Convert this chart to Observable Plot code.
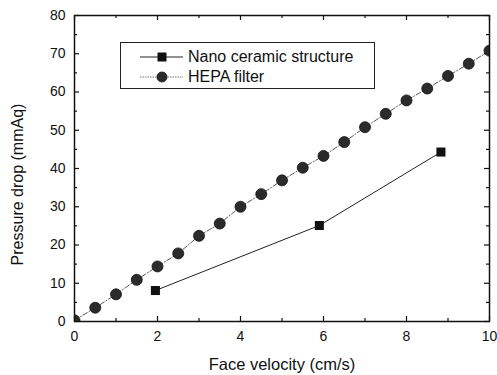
<!DOCTYPE html>
<html>
<head>
<meta charset="utf-8">
<script src="https://cdn.jsdelivr.net/npm/d3@7"></script>
<script src="https://cdn.jsdelivr.net/npm/@observablehq/plot@0.6"></script>
<style>
  html, body { margin: 0; padding: 0; background: #fff; }
  #wrap { position: relative; width: 497px; height: 375px; font-family: "Liberation Sans", Arial, sans-serif; }
  #legend { position: absolute; left: 120px; top: 42px; width: 255px; height: 47px; border: 1px solid #222; background: #fff; box-sizing: border-box; }
  .row { position: absolute; left: 0; height: 20px; display: flex; align-items: center; font-size: 16px; color: #111; }
  .row svg { margin-left: 19px; margin-right: 5px; }
</style>
</head>
<body>
<div id="wrap"></div>
<script>
const hepaVelocity = [0, 0.5, 1, 1.5, 2, 2.5, 3, 3.5, 4, 4.5, 5, 5.5, 6, 6.5, 7, 7.5, 8, 8.5, 9, 9.5, 10];
const hepaPressure = [0.3, 3.6, 7.1, 10.9, 14.4, 17.8, 22.4, 25.6, 30.0, 33.3, 36.9, 40.2, 43.3, 46.9, 50.8, 54.3, 57.8, 60.9, 64.2, 67.4, 70.8];
const nanoVelocity = [1.95, 5.9, 8.83];
const nanoPressure = [8.1, 25.1, 44.3];
const xMajor = [0, 2, 4, 6, 8, 10];
const xMinor = [1, 3, 5, 7, 9];
const yMajor = [0, 10, 20, 30, 40, 50, 60, 70, 80];
const yMinor = [5, 15, 25, 35, 45, 55, 65, 75];
const seriesNames = ["Nano ceramic structure", "HEPA filter"];

const hepa = hepaVelocity.map((v, i) => ({v, p: hepaPressure[i]}));
const nano = nanoVelocity.map((v, i) => ({v, p: nanoPressure[i]}));

const W = 497, H = 375, mL = 74, mR = 8, mT = 15, mB = 54;
const iH = H - mT - mB, iW = W - mL - mR;
const font = "Liberation Sans, Arial, sans-serif";

const chart = Plot.plot({
  width: W, height: H,
  marginLeft: mL, marginRight: mR, marginTop: mT, marginBottom: mB,
  style: {fontFamily: font, background: "#fff", color: "#111"},
  x: {domain: [0, 10]},
  y: {domain: [0, 80]},
  marks: [
    Plot.axisX(xMajor, {tickSize: 0, tickPadding: 10, fontSize: 14, label: null}),
    Plot.axisY(yMajor, {tickSize: 0, tickPadding: 9, fontSize: 14, label: null}),
    // inward ticks
    Plot.tickX(xMajor, {x: d => d, insetTop: iH - 5, stroke: "#111", strokeWidth: 1.2}),
    Plot.tickX(xMinor, {x: d => d, insetTop: iH - 3, stroke: "#111", strokeWidth: 1.2}),
    Plot.tickX(xMajor, {x: d => d, insetBottom: iH - 5, stroke: "#111", strokeWidth: 1.2}),
    Plot.tickX(xMinor, {x: d => d, insetBottom: iH - 3, stroke: "#111", strokeWidth: 1.2}),
    Plot.tickY(yMajor, {y: d => d, insetRight: iW - 5, stroke: "#111", strokeWidth: 1.2}),
    Plot.tickY(yMinor, {y: d => d, insetRight: iW - 3, stroke: "#111", strokeWidth: 1.2}),
    Plot.tickY(yMajor, {y: d => d, insetLeft: iW - 5, stroke: "#111", strokeWidth: 1.2}),
    Plot.tickY(yMinor, {y: d => d, insetLeft: iW - 3, stroke: "#111", strokeWidth: 1.2}),
    Plot.line(hepa, {x: "v", y: "p", stroke: "#444", strokeWidth: 0.9, strokeDasharray: "5,2,1,2", clip: true}),
    Plot.line(nano, {x: "v", y: "p", stroke: "#222", strokeWidth: 1}),
    Plot.dot(hepa, {x: "v", y: "p", r: 5.5, fill: "#2b2b2b", stroke: "#111", strokeWidth: 0.8, clip: true}),
    Plot.dot(nano, {x: "v", y: "p", r: 5.1, symbol: "square", fill: "#111", stroke: "none"}),
    Plot.frame({stroke: "#111", strokeWidth: 1.5}),
    Plot.text(["Face velocity (cm/s)"], {frameAnchor: "bottom", lineAnchor: "middle", textAnchor: "middle", dy: 43, fontSize: 16.5, fill: "#111", text: d => d}),
    Plot.text(["Pressure drop (mmAq)"], {frameAnchor: "left", lineAnchor: "middle", textAnchor: "middle", dx: -57, dy: 16, rotate: -90, fontSize: 16, fill: "#111", text: d => d})
  ]
});

const wrap = document.getElementById("wrap");
wrap.appendChild(chart);

const legend = document.createElement("div");
legend.id = "legend";
const ns = "http://www.w3.org/2000/svg";
seriesNames.forEach((name, i) => {
  const row = document.createElement("div");
  row.className = "row";
  row.style.top = (i === 0 ? 4 : 24) + "px";
  const svg = document.createElementNS(ns, "svg");
  svg.setAttribute("width", 43); svg.setAttribute("height", 14);
  const line = document.createElementNS(ns, "line");
  line.setAttribute("x1", 0); line.setAttribute("x2", 43);
  line.setAttribute("y1", 7); line.setAttribute("y2", 7);
  line.setAttribute("stroke", i === 0 ? "#222" : "#777");
  line.setAttribute("stroke-width", 1);
  if (i === 1) line.setAttribute("stroke-dasharray", "1.5,1");
  svg.appendChild(line);
  if (i === 0) {
    const r = document.createElementNS(ns, "rect");
    r.setAttribute("x", 17.5); r.setAttribute("y", 2.5); r.setAttribute("width", 9); r.setAttribute("height", 9);
    r.setAttribute("fill", "#111");
    svg.appendChild(r);
  } else {
    const c = document.createElementNS(ns, "circle");
    c.setAttribute("cx", 22); c.setAttribute("cy", 7); c.setAttribute("r", 5);
    c.setAttribute("fill", "#2b2b2b"); c.setAttribute("stroke", "#111"); c.setAttribute("stroke-width", 0.8);
    svg.appendChild(c);
  }
  row.appendChild(svg);
  const span = document.createElement("span");
  span.textContent = name;
  row.appendChild(span);
  legend.appendChild(row);
});
wrap.appendChild(legend);
</script>
</body>
</html>
